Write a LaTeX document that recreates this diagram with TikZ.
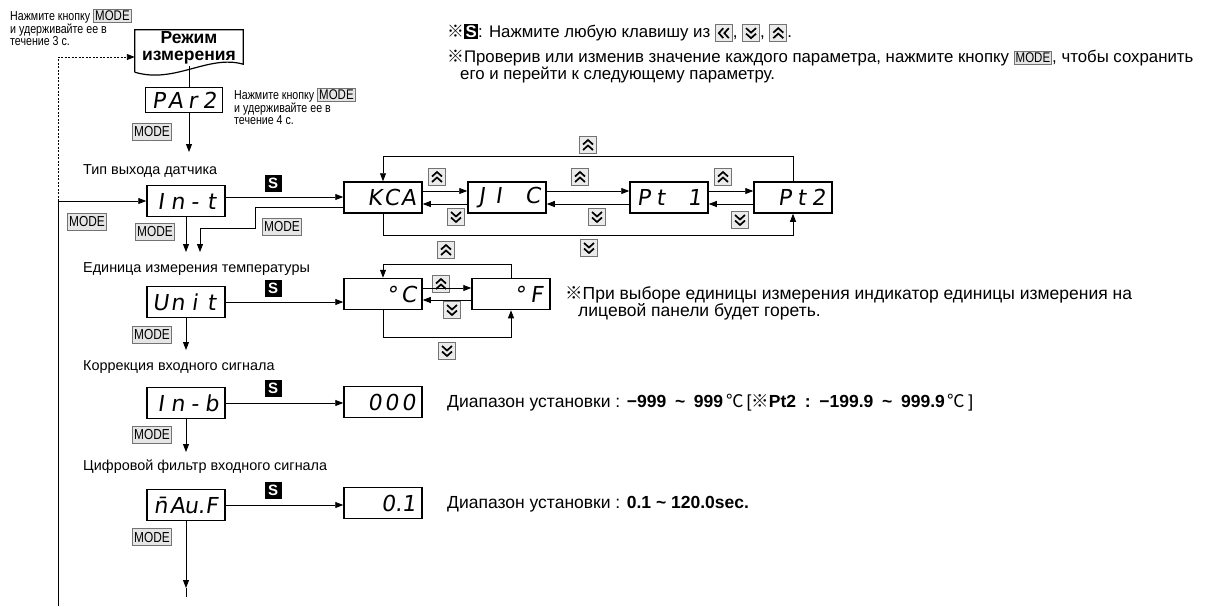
\documentclass[tikz,border=0pt]{standalone}
\usepackage{fontspec}
\setmainfont{Liberation Sans}
\newfontfamily\segfont{DejaVu Sans}[FakeSlant=0.15]
\newfontfamily\narrowfont{Liberation Sans}[FakeStretch=0.82]
\newfontfamily\cjkfont{Noto Sans CJK SC}
\usetikzlibrary{arrows.meta,positioning,calc}
\newcommand{\dig}[1]{\makebox[17pt]{#1}}
\newcommand{\refmark}{{\cjkfont ※}}
\newcommand{\degc}{{\cjkfont ℃}}
\newcommand{\modekey}{{\setlength{\fboxsep}{1.2pt}\setlength{\fboxrule}{0.8pt}\fcolorbox{black!55}{black!10}{\narrowfont\fontsize{14}{12}\selectfont MODE}}}
\newcommand{\skeyin}{{\setlength{\fboxsep}{1.5pt}\colorbox{black}{\textcolor{white}{\bfseries S}}}}
\newcommand{\keyframe}{\draw[black!55, fill=black!8, line width=0.9pt] (-8.5,-8.5) rectangle (8.5,8.5);}
\newcommand{\keyup}{\tikz[x=1pt,y=1pt,baseline=-4pt]{\keyframe \draw[line width=1.7pt] (-5,-5)--(0,-0.5)--(5,-5) (-5,0.5)--(0,5)--(5,0.5);}}
\newcommand{\keydown}{\tikz[x=1pt,y=1pt,baseline=-4pt]{\keyframe \draw[line width=1.7pt] (-5,5)--(0,0.5)--(5,5) (-5,-0.5)--(0,-5)--(5,-0.5);}}
\newcommand{\keyleft}{\tikz[x=1pt,y=1pt,baseline=-4pt]{\keyframe \draw[line width=1.7pt] (-0.5,5)--(-5,0)--(-0.5,-5) (5,5)--(0.5,0)--(5,-5);}}

\begin{document}
\begin{tikzpicture}[x=1pt, y=-1pt,
  disp/.style={draw, line width=1.5pt, minimum width=78pt, minimum height=31pt, inner sep=0pt, font=\segfont\fontsize{22}{22}\selectfont},
  modebox/.style={draw=black!55, fill=black!10, line width=0.8pt, inner sep=1.5pt, minimum width=39pt, minimum height=17pt, font=\narrowfont\fontsize{14.5}{14}\selectfont},
  skey/.style={fill=black, text=white, inner sep=0pt, minimum size=17pt, font=\bfseries\fontsize{15}{15}\selectfont},
  lbl/.style={anchor=west, inner sep=0pt, font=\fontsize{14.4}{16}\selectfont},
  note/.style={anchor=north west, inner sep=0pt, align=left, font=\fontsize{16.8}{17}\selectfont},
  rng/.style={anchor=west, inner sep=0pt, font=\fontsize{17.5}{18}\selectfont},
  small/.style={anchor=north west, inner sep=0pt, align=left, font=\narrowfont\fontsize{13}{12.5}\selectfont},
  key/.style={inner sep=0pt},
  wire/.style={line width=0.9pt},
  arr/.style={wire, -{Triangle[length=8pt,width=6pt]}},
  loopback/.style={wire, dash pattern=on 2pt off 1.5pt, -{Triangle[length=8pt,width=6pt]}}
]
\useasboundingbox (0,0) rectangle (1208,606);

% header notes
\node[small] (hold3) at (10,9) {Нажмите кнопку \modekey\\и удерживайте ее в\\течение 3 с.};
\node[note, anchor=west] (note1) at (447,33) {\refmark\skeyin: Нажмите любую клавишу из \keyleft, \keydown, \keyup.};
\node[note] (note2) at (447,50) {\refmark Проверив или изменив значение каждого параметра, нажмите кнопку \modekey, чтобы сохранить\\\hspace*{13pt}его и перейти к следующему параметру.};

% measuring mode and PAr2
\node[font=\bfseries\fontsize{17.5}{17}\selectfont, align=center, minimum width=108pt, minimum height=36pt, inner sep=0pt] (meas) at (189,48) {Режим\\измерения};
\draw[line width=1.2pt] ($(meas.south west)+(0,6)$) -- (meas.north west) -- (meas.north east) -- ($(meas.south east)+(0,-2)$)
  .. controls ($(meas.south east)+(-35,-12)$) and ($(meas.south west)+(40,18)$) .. ($(meas.south west)+(0,6)$);
\node[disp, minimum width=77pt, minimum height=25pt] (par2) at (184,100) {\dig{P}\dig{A}\dig{r}\dig{2}};
\node[small] (hold4) at (234,88) {Нажмите кнопку \modekey\\и удерживайте ее в\\течение 4 с.};
\node[modebox] (m0) at (152,132) {MODE};
\coordinate (tosens) at (189,152);
\draw[wire] (meas.south) -- (meas.south |- par2.north);
\draw[arr] (par2.south -| meas.south) -- (tosens);

% sensor type
\node[lbl] (lsens) at (83,171) {Тип выхода датчика};
\node[disp] (int) at (186,201) {\dig{I}\dig{n}\dig{-}\dig{t}};
\node[skey] (s1) at (273,183) {S};
\node[disp] (kca) at (383,197.5) {\dig{}\dig{K}\dig{C}\dig{A}};
\node[disp] (jic) at (507,197.5) {\dig{J}\dig{I}\dig{}\dig{C}};
\node[disp] (pt1) at (669,197.5) {\dig{P}\dig{t}\dig{}\dig{1}};
\node[disp] (pt2) at (793,197.5) {\dig{}\dig{P}\dig{t}\dig{2}};
\node[key] (u1) at (437,177) {\keyup};
\node[key] (u2) at (580,177) {\keyup};
\node[key] (u3) at (723,177) {\keyup};
\node[key] (d1) at (456,217) {\keydown};
\node[key] (d2) at (597,217) {\keydown};
\node[key] (d3) at (740,220) {\keydown};
\node[key] (u0) at (588,145) {\keyup};
\node[key] (d0) at (589,248) {\keydown};
\node[modebox] (m1a) at (87,222) {MODE};
\node[modebox] (m1b) at (155,232) {MODE};
\node[modebox] (m1c) at (282,227) {MODE};
\coordinate (lb) at (58,606);
\coordinate (down1) at (186,252);
\coordinate (ret) at (200,252);
\draw[arr] ([yshift=4pt]int.east) -- ([yshift=4pt]int.east -| kca.west);
\draw[arr] ([yshift=6.5pt]kca.east) -- ([yshift=6.5pt]jic.west);
\draw[arr] ([yshift=-6.5pt]jic.west) -- ([yshift=-6.5pt]kca.east);
\draw[arr] ([yshift=6.5pt]jic.east) -- ([yshift=6.5pt]pt1.west);
\draw[arr] ([yshift=-6.5pt]pt1.west) -- ([yshift=-6.5pt]jic.east);
\draw[arr] ([yshift=6.5pt]pt1.east) -- ([yshift=6.5pt]pt2.west);
\draw[arr] ([yshift=-6.5pt]pt2.west) -- ([yshift=-6.5pt]pt1.east);
\draw[arr] (pt2.north) -- ++(0,-25) -| (kca.north);
\draw[arr] (kca.south) -- ++(0,22) -| (pt2.south);
\draw[arr] ([yshift=-10pt]kca.west) -| (255,228) -| (ret);
\draw[arr] (int.south) -- (down1);
\draw[arr] (lb) -- (lb |- int.west) -- (int.west);
\draw[loopback] (lb |- int.west) -- (58,57) -- ([yshift=-9pt]meas.west);

% temperature unit
\node[lbl] (lunit) at (83,269) {Единица измерения температуры};
\node[disp] (unit) at (186,302) {\dig{U}\dig{n}\dig{i}\dig{t}};
\node[skey] (s2) at (273,288) {S};
\node[disp] (degc) at (383,294) {\dig{}\dig{}\dig{°}\dig{C}};
\node[disp] (degf) at (511,294) {\dig{}\dig{}\dig{°}\dig{F}};
\node[key] (u4) at (441,284) {\keyup};
\node[key] (d4) at (452,310) {\keydown};
\node[key] (u5) at (446,250) {\keyup};
\node[key] (d5) at (447,351) {\keydown};
\node[modebox] (m2) at (152,335) {MODE};
\node[note, font=\fontsize{17.5}{16}\selectfont] (note3) at (565,286) {\refmark При выборе единицы измерения индикатор единицы измерения на\\\hspace*{13pt}лицевой панели будет гореть.};
\coordinate (down2) at (186,350);
\draw[arr] (unit.east) -- (unit.east -| degc.west);
\draw[arr] ([yshift=6pt]degc.east) -- ([yshift=6pt]degf.west);
\draw[arr] ([yshift=-6pt]degf.west) -- ([yshift=-6pt]degc.east);
\draw[arr] (degf.north) -- ++(0,-13) -| (degc.north);
\draw[arr] (degc.south) -- ++(0,27) -| (degf.south);
\draw[arr] (unit.south) -- (down2);

% input correction
\node[lbl] (linb) at (83,367) {Коррекция входного сигнала};
\node[disp] (inb) at (186,403) {\dig{I}\dig{n}\dig{-}\dig{b}};
\node[skey] (s3) at (273,388) {S};
\node[disp] (zero) at (383,402) {\dig{}\dig{0}\dig{0}\dig{0}};
\node[rng] (rng1) at (447,403) {Диапазон установки : \textbf{−999\enspace\textasciitilde\enspace 999}\,\degc\,[\refmark\textbf{Pt2\enspace:\enspace−199.9\enspace\textasciitilde\enspace 999.9}\,\degc\,]};
\node[modebox] (m3) at (152,435) {MODE};
\coordinate (down3) at (186,452);
\draw[arr] (inb.east) -- (inb.east -| zero.west);
\draw[arr] (inb.south) -- (down3);

% digital input filter
\node[lbl] (lmavf) at (83,467) {Цифровой фильтр входного сигнала};
\node[disp] (mavf) at (186,505) {\dig{\=n}\dig{A}\dig{u.}\dig{F}};
\node[skey] (s4) at (273,490) {S};
\node[disp] (pone) at (383,503) {\dig{}\dig{}\dig{0.}\dig{1}};
\node[rng] (rng2) at (447,504) {Диапазон установки : \textbf{0.1 \textasciitilde{} 120.0sec.}};
\node[modebox] (m4) at (152,537) {MODE};
\coordinate (mtip) at (186,588);
\coordinate (mend) at (186,597);
\draw[arr] (mavf.east) -- (mavf.east -| pone.west);
\draw[arr] (mavf.south) -- (mtip);
\draw[wire] (mtip) -- (mend);
\end{tikzpicture}
\end{document}
